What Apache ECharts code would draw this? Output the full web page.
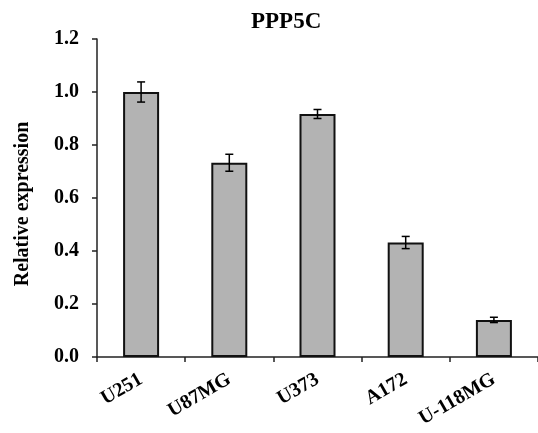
<!DOCTYPE html>
<html>
<head>
<meta charset="utf-8">
<script src="https://cdn.jsdelivr.net/npm/echarts@6/dist/echarts.min.js"></script>
<style>
  html, body { margin: 0; padding: 0; background: #fff; }
  #main { width: 538px; height: 433px; }
</style>
</head>
<body>
<div id="main"></div>
<script>
(function () {
    'use strict';

    var cellLines = ['U251', 'U87MG', 'U373', 'A172', 'U-118MG'];
    var expression = [1.0, 0.733, 0.917, 0.432, 0.140];
    var errors = [0.038, 0.032, 0.017, 0.023, 0.010];
    var yTicks = [0, 0.2, 0.4, 0.6, 0.8, 1.0, 1.2];

    var font = '"Liberation Serif", "Times New Roman", serif';

    var errData = expression.map(function (v, i) {
        return [i, v, errors[i]];
    });

    function renderError(params, api) {
        var i = api.value(0);
        var v = api.value(1);
        var e = api.value(2);
        var hi = api.coord([i, v + e]);
        var lo = api.coord([i, v - e]);
        var cap = 4;
        var style = { stroke: '#000', lineWidth: 1.5 };
        return {
            type: 'group',
            children: [
                { type: 'line', shape: { x1: hi[0], y1: hi[1], x2: lo[0], y2: lo[1] }, style: style },
                { type: 'line', shape: { x1: hi[0] - cap, y1: hi[1], x2: hi[0] + cap, y2: hi[1] }, style: style },
                { type: 'line', shape: { x1: lo[0] - cap, y1: lo[1], x2: lo[0] + cap, y2: lo[1] }, style: style }
            ]
        };
    }

    var myChart = echarts.init(document.getElementById('main'));
    var option = {
        animation: false,
        title: {
            text: 'PPP5C',
            left: 246,
            top: 6,
            textStyle: { fontFamily: font, fontWeight: 'bold', fontSize: 23, color: '#000' }
        },
        grid: { left: 97, top: 39, width: 444, bottom: 76 },
        xAxis: {
            type: 'category',
            data: cellLines,
            axisLine: { lineStyle: { color: '#222', width: 1.5 } },
            axisTick: { show: true, length: 5, lineStyle: { color: '#222', width: 1.5 } },
            axisLabel: {
                rotate: 30,
                margin: 21,
                fontFamily: font,
                fontWeight: 'bold',
                fontSize: 20,
                color: '#000'
            }
        },
        yAxis: {
            type: 'value',
            min: yTicks[0],
            max: yTicks[yTicks.length - 1],
            interval: 0.2,
            name: 'Relative expression',
            nameLocation: 'middle',
            nameGap: 64,
            nameTextStyle: { fontFamily: font, fontWeight: 'bold', fontSize: 20, color: '#000', padding: [0, 0, 0, -12] },
            axisLine: { show: true, lineStyle: { color: '#222', width: 1.5 } },
            axisTick: { show: true, length: 5, lineStyle: { color: '#222', width: 1.5 } },
            splitLine: { show: false },
            axisLabel: {
                margin: 18,
                fontFamily: font,
                fontWeight: 'bold',
                fontSize: 20,
                color: '#000',
                formatter: function (v) { return v.toFixed(1); }
            }
        },
        series: [
            {
                type: 'bar',
                data: expression,
                barWidth: 36,
                itemStyle: { color: '#b3b3b3', borderColor: '#111', borderWidth: 2 }
            },
            {
                type: 'custom',
                data: errData,
                renderItem: renderError,
                z: 5
            }
        ]
    };
    myChart.setOption(option);
})();
</script>
</body>
</html>
